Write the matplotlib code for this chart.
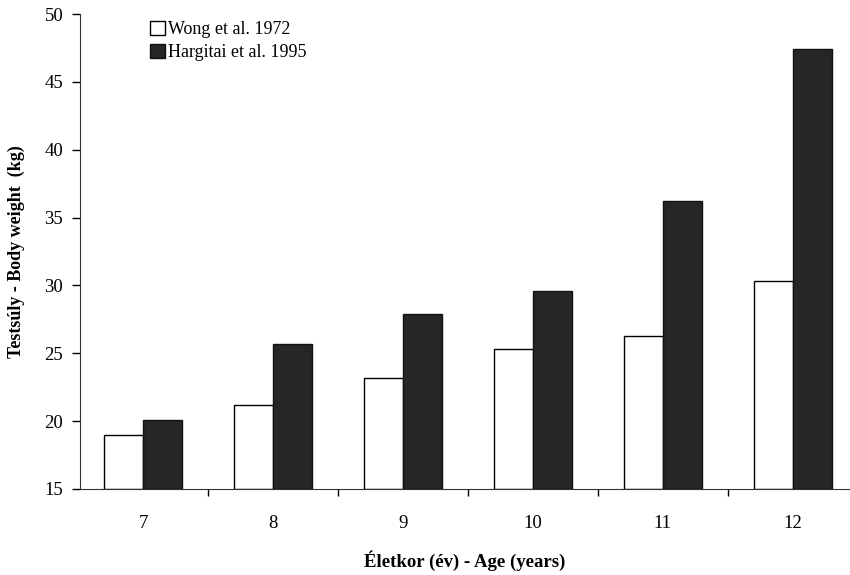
import numpy as np
import matplotlib.pyplot as plt
from matplotlib.ticker import FixedLocator

plt.rcParams['font.family'] = ['Liberation Serif', 'DejaVu Serif']

# Data
ages = ['7', '8', '9', '10', '11', '12']
wong_1972 = [19.0, 21.2, 23.2, 25.3, 26.3, 30.3]
hargitai_1995 = [20.1, 25.7, 27.9, 29.6, 36.2, 47.4]

x = np.arange(len(ages))
w = 0.3

fig = plt.figure(figsize=(8.5, 5.75), dpi=100)
ax = fig.add_axes([0.094, 0.1496, 0.906, 0.826])

ax.bar(x - w / 2, [v - 15 for v in wong_1972], w, bottom=15, color='white',
       edgecolor='black', linewidth=1, label='Wong et al. 1972')
ax.bar(x + w / 2, [v - 15 for v in hargitai_1995], w, bottom=15, color='#262626',
       edgecolor='#111111', linewidth=1, label='Hargitai et al. 1995')

ax.set_ylim(15, 50)
ax.set_xlim(-0.485, 5.44)
ax.set_yticks(np.arange(15, 51, 5))
ax.set_xticks(x)
ax.set_xticklabels(ages)
ax.xaxis.set_minor_locator(FixedLocator(x[:-1] + 0.5))
ax.tick_params(axis='x', which='major', length=0, pad=19, labelsize=13.5)
ax.tick_params(axis='x', which='minor', length=5, direction='out', width=1)
ax.tick_params(axis='y', length=6, direction='out', width=1, labelsize=13.5, pad=6)

for s in ['top', 'right']:
    ax.spines[s].set_visible(False)
ax.spines['left'].set_color('#333333')
ax.spines['bottom'].set_color('#333333')

ax.set_xlabel('Életkor (év) - Age (years)', fontsize=13.5, fontweight='bold', labelpad=13)
ax.set_ylabel('Testsúly - Body weight  (kg)', fontsize=13, fontweight='bold', labelpad=14)

ax.legend(loc='upper left', bbox_to_anchor=(0.07, 1.02), frameon=False, fontsize=13,
          handlelength=0.8, handleheight=0.8, handletextpad=0.2, labelspacing=0.35)

fig.savefig('out.png', dpi=100)
